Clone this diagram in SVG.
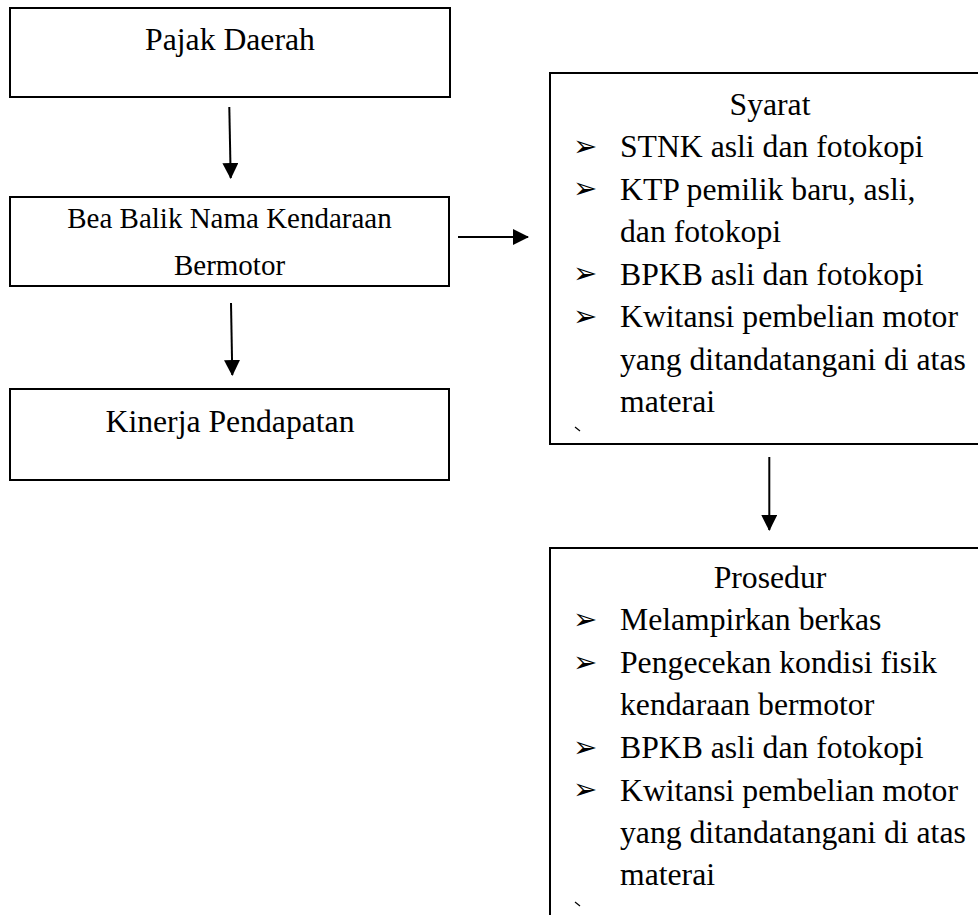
<svg xmlns="http://www.w3.org/2000/svg" width="978" height="915" viewBox="0 0 978 915">
<style>
.box{fill:#fff;stroke:#000;stroke-width:2}
.t{font-family:"Liberation Serif","Times New Roman",serif;font-size:31.7px;fill:#000}
.s{font-size:29px}
.c{text-anchor:middle}
.b{font-family:"DejaVu Sans",sans-serif;font-size:29px;fill:#000}
.ln{stroke:#000;stroke-width:2;fill:none}
</style>
<defs>
<marker id="ah" markerWidth="8" markerHeight="8" refX="7.5" refY="4" orient="auto" markerUnits="strokeWidth">
<path d="M0,0 L8,4 L0,8 Z" fill="#000"/>
</marker>
</defs>
<rect width="978" height="915" fill="#fff"/>
<g id="pajak-daerah">
<rect class="box" x="10" y="8" width="440" height="89"/>
<text class="t c" x="230" y="50">Pajak Daerah</text>
</g>
<g id="bea-balik-nama">
<rect class="box" x="10" y="197" width="439" height="89"/>
<text class="t s c" x="229.5" y="228">Bea Balik Nama Kendaraan</text>
<text class="t s c" x="229.5" y="275">Bermotor</text>
</g>
<g id="kinerja-pendapatan">
<rect class="box" x="10" y="389" width="439" height="91"/>
<text class="t c" x="230" y="432">Kinerja Pendapatan</text>
</g>
<g id="syarat">
<rect class="box" x="550" y="73" width="440" height="371"/>
<text class="t c" x="770" y="115">Syarat</text>
<text class="b" x="573" y="156">➢</text>
<text class="t" x="620" y="157">STNK asli dan fotokopi</text>
<text class="b" x="573" y="198">➢</text>
<text class="t" x="620" y="199.5">KTP pemilik baru, asli,</text>
<text class="t" x="620" y="242">dan fotokopi</text>
<text class="b" x="573" y="283">➢</text>
<text class="t" x="620" y="284.5">BPKB asli dan fotokopi</text>
<text class="b" x="573" y="325.5">➢</text>
<text class="t" x="620" y="327">Kwitansi pembelian motor</text>
<text class="t" x="620" y="369.5">yang ditandatangani di atas</text>
<text class="t" x="620" y="412">materai</text>
<path d="M575,427 L580,431" stroke="#000" stroke-width="1.2"/>
</g>
<g id="prosedur">
<rect class="box" x="550" y="548" width="440" height="380"/>
<text class="t c" x="770" y="588">Prosedur</text>
<text class="b" x="573" y="629">➢</text>
<text class="t" x="620" y="630">Melampirkan berkas</text>
<text class="b" x="573" y="671.5">➢</text>
<text class="t" x="620" y="673">Pengecekan kondisi fisik</text>
<text class="t" x="620" y="715">kendaraan bermotor</text>
<text class="b" x="573" y="756.5">➢</text>
<text class="t" x="620" y="758">BPKB asli dan fotokopi</text>
<text class="b" x="573" y="799">➢</text>
<text class="t" x="620" y="800.5">Kwitansi pembelian motor</text>
<text class="t" x="620" y="843">yang ditandatangani di atas</text>
<text class="t" x="620" y="885">materai</text>
<path d="M575,902 L580,906" stroke="#000" stroke-width="1.2"/>
</g>
<g id="connectors">
<line class="ln" x1="229.3" y1="107" x2="230.7" y2="178" marker-end="url(#ah)"/>
<line class="ln" x1="231" y1="303" x2="232.3" y2="375" marker-end="url(#ah)"/>
<line class="ln" x1="458" y1="237" x2="528" y2="237" marker-end="url(#ah)"/>
<line class="ln" x1="769.3" y1="457" x2="769.3" y2="530" marker-end="url(#ah)"/>
</g>
</svg>
